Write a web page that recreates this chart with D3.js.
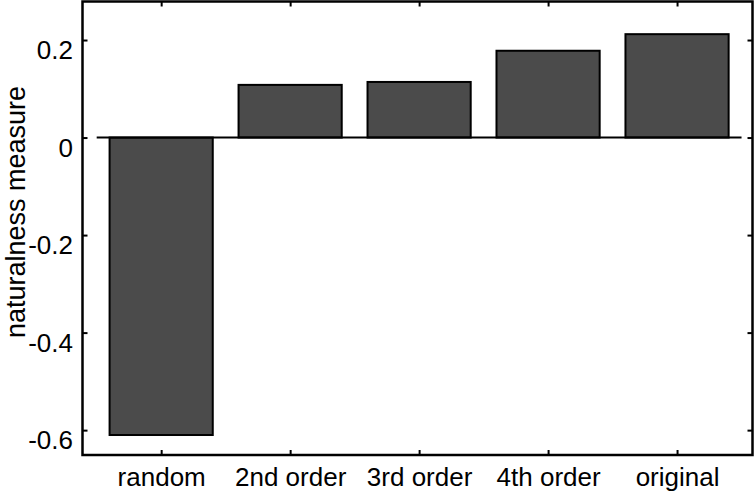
<!DOCTYPE html>
<html>
<head>
<meta charset="utf-8">
<script src="https://cdn.jsdelivr.net/npm/d3@7"></script>
<style>
  body { margin: 0; background: #fff; }
  svg { display: block; font-family: "Liberation Sans", Arial, Helvetica, sans-serif; }
</style>
</head>
<body>
<div id="chart"></div>
<script>
// data
var categories = ["random", "2nd order", "3rd order", "4th order", "original"];
var values = [-0.61, 0.108, 0.114, 0.178, 0.212];
var yTicks = [-0.6, -0.4, -0.2, 0, 0.2];

var width = 756, height = 493;
var fontSize = 26;
var barWidth = 0.8;

var svg = d3.select("#chart").append("svg")
    .attr("width", width)
    .attr("height", height);

// x is the bar index (1..5), y the measure
var x = d3.scaleLinear()
    .domain([0.39, 5.585])
    .range([82.5, 752.5]);

var y = d3.scaleLinear()
    .domain([-0.651, 0.279])
    .range([455, 1.5]);

var idx = categories.map((c, i) => i + 1);

// bars
svg.append("g")
    .selectAll("rect")
    .data(values)
    .enter().append("rect")
    .attr("x", (d, i) => x(i + 1 - barWidth / 2))
    .attr("width", (d, i) => x(i + 1 + barWidth / 2) - x(i + 1 - barWidth / 2))
    .attr("y", d => y(Math.max(0, d)))
    .attr("height", d => Math.abs(y(d) - y(0)))
    .attr("fill", "#4b4b4b")
    .attr("stroke", "#000")
    .attr("stroke-width", 2);

// baseline at zero
svg.append("line")
    .attr("x1", x(0.5))
    .attr("x2", x(5.5))
    .attr("y1", y(0))
    .attr("y2", y(0))
    .attr("stroke", "#000")
    .attr("stroke-width", 2);

// axes, ticks pointing inwards
var bottom = svg.append("g")
    .attr("transform", "translate(0," + y.range()[0] + ")")
    .call(d3.axisBottom(x).tickValues(idx).tickSize(-5)
        .tickFormat(i => categories[i - 1]));
bottom.selectAll("text")
    .attr("y", 31)
    .attr("dy", 0);

svg.append("g")
    .attr("transform", "translate(0," + y.range()[1] + ")")
    .call(d3.axisTop(x).tickValues(idx).tickSize(-5).tickFormat(""));

var left = svg.append("g")
    .attr("transform", "translate(" + x.range()[0] + ",0)")
    .call(d3.axisLeft(y).tickValues(yTicks).tickSize(-5)
        .tickFormat(d => d === 0 ? "0" : String(d)));
left.selectAll("text")
    .attr("x", -9.5)
    .attr("y", 18.5)
    .attr("dy", 0);

svg.append("g")
    .attr("transform", "translate(" + x.range()[1] + ",0)")
    .call(d3.axisRight(y).tickValues(yTicks).tickSize(-5).tickFormat(""));

svg.selectAll(".domain").remove();
svg.selectAll(".tick line").attr("stroke", "#000").attr("stroke-width", 2);
svg.selectAll(".tick text")
    .attr("fill", "#000")
    .style("font-size", fontSize + "px")
    .style("font-family", "\"Liberation Sans\", Arial, sans-serif");

// box around the plot
svg.append("rect")
    .attr("x", x.range()[0])
    .attr("y", y.range()[1])
    .attr("width", x.range()[1] - x.range()[0])
    .attr("height", y.range()[0] - y.range()[1])
    .attr("fill", "none")
    .attr("stroke", "#000")
    .attr("stroke-width", 2.5);

// y label
svg.append("text")
    .attr("transform", "translate(25," + ((85 + 339) / 2) + ") rotate(-90)")
    .attr("text-anchor", "middle")
    .style("font-size", "27px")
    .text("naturalness measure");
</script>
</body>
</html>
